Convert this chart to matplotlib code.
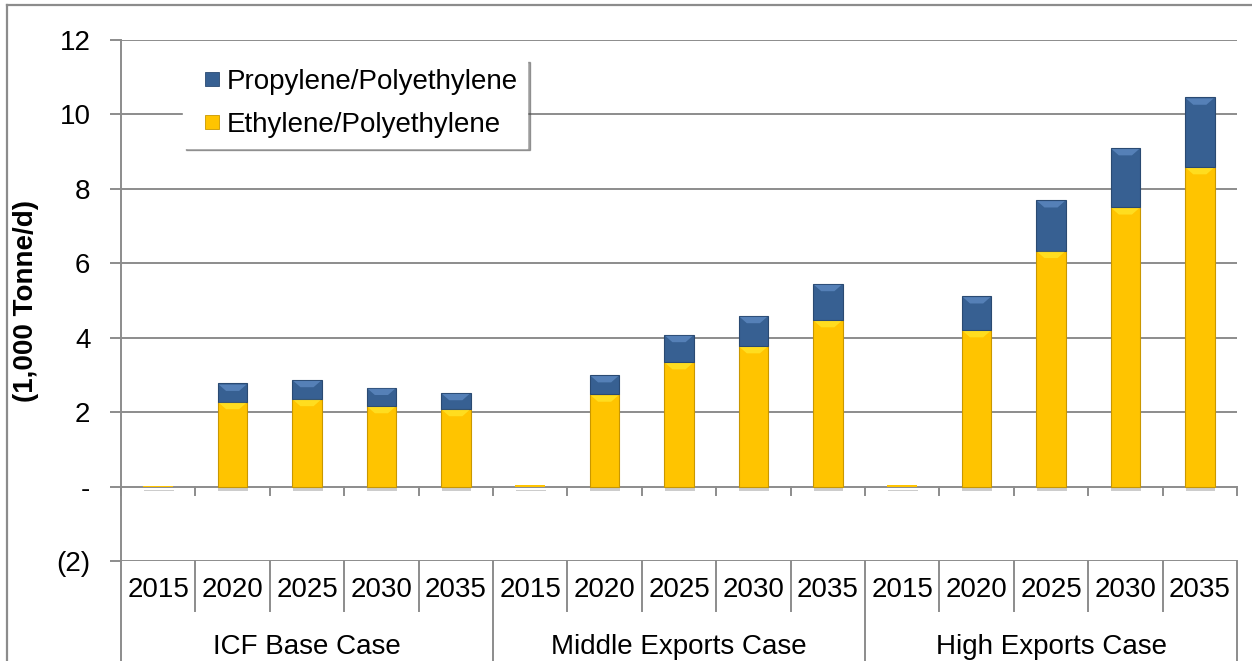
import matplotlib
matplotlib.use("Agg")
import matplotlib.pyplot as plt
import matplotlib.patheffects as pe
from matplotlib.patches import Polygon
from matplotlib.lines import Line2D
import matplotlib.transforms as mtransforms
import numpy as np

plt.rcParams['font.family'] = ['Liberation Sans', 'DejaVu Sans']

# ---------------- data ----------------
groups = ["ICF Base Case", "Middle Exports Case", "High Exports Case"]
years = ["2015", "2020", "2025", "2030", "2035"]
ethylene = [0.01, 2.28, 2.36, 2.17, 2.09,
            0.03, 2.48, 3.35, 3.78, 4.48,
            0.03, 4.21, 6.34, 7.51, 8.59]
propylene = [0.0, 0.49, 0.51, 0.49, 0.43,
             0.0, 0.52, 0.73, 0.81, 0.97,
             0.0, 0.91, 1.36, 1.59, 1.87]
ytick_vals = [-2, 0, 2, 4, 6, 8, 10, 12]
ytick_labels = ["(2)", "-", "2", "4", "6", "8", "10", "12"]
series_names = ["Ethylene/Polyethylene", "Propylene/Polyethylene"]

# ---------------- style ----------------
W, H = 1252, 661
fig = plt.figure(figsize=(W / 100, H / 100), dpi=100)
ax_l, ax_r, ax_t, ax_b = 121, 1237, 40, 561
ax = fig.add_axes([ax_l / W, (H - ax_b) / H, (ax_r - ax_l) / W, (ax_b - ax_t) / H])

FS = 20
GRID = "#8c8c8c"
YEL = "#FFC400"
YEL_EDGE = "#C99700"
YEL_HI = "#FFF23A"
BLU = "#376092"
BLU_EDGE = "#2A4A72"
BLU_HI = "#6E9BD6"

n = len(ethylene)
x = np.arange(n)
bw = 0.4

ax.set_xlim(-0.5, n - 0.5)
ax.set_ylim(-2, 12)

# gridlines
for v in ytick_vals:
    ax.axhline(v, color=GRID, lw=1.4, zorder=0)

shadow = [pe.SimplePatchShadow(offset=(0.5, -3), shadow_rgbFace="black", alpha=0.2), pe.Normal()]
lw_e = [0.8 if v > 0.2 else 0 for v in ethylene]
lw_p = [0.8 if v > 0 else 0 for v in propylene]
ax.bar(x, ethylene, bw, color=YEL, edgecolor=YEL_EDGE, linewidth=lw_e, zorder=3,
       path_effects=shadow)
ax.bar(x, propylene, bw, bottom=ethylene, color=BLU, edgecolor=BLU_EDGE, linewidth=lw_p,
       zorder=3, path_effects=[pe.Normal()])

# top bevel highlights
hb = 0.2
for i in range(n):
    for bottom, h, col in ((0, ethylene[i], YEL_HI), (ethylene[i], propylene[i], BLU_HI)):
        if h < 0.4:
            continue
        top = bottom + h
        x0, x1 = x[i] - bw / 2, x[i] + bw / 2
        poly = Polygon([(x0 + 0.015, top - 0.03), (x1 - 0.015, top - 0.03),
                        (x1 - bw * 0.28, top - hb), (x0 + bw * 0.28, top - hb)],
                       closed=True, facecolor=col, edgecolor="none", alpha=0.55, zorder=4)
        ax.add_patch(poly)

# y axis
ax.set_yticks(ytick_vals)
ax.set_yticklabels(ytick_labels, fontsize=FS)
ax.tick_params(axis="y", length=8, width=1.4, color=GRID, pad=14)
ax.set_xticks([])
for s in ["top", "right", "bottom"]:
    ax.spines[s].set_visible(False)
ax.spines["left"].set_color(GRID)
ax.spines["left"].set_linewidth(1.4)

ax.set_ylabel("(1,000 Tonne/d)", fontsize=FS, fontweight="bold")
ax.yaxis.set_label_coords((39 - ax_l) / (ax_r - ax_l), 0.5)

# x ticks at zero line
tick_len = 8 / ((ax_b - ax_t) / 14)
for i in range(n + 1):
    ax.plot([i - 0.5, i - 0.5], [0, -tick_len], color=GRID, lw=1.4, zorder=2, clip_on=False)

# category table below
trans = mtransforms.blended_transform_factory(ax.transData, ax.transAxes)
axh = ax_b - ax_t
row1 = 50 / axh
row2 = 100 / axh
for i in range(n + 1):
    depth = row2 + 0.01 if i % len(years) == 0 else row1
    ax.plot([i - 0.5, i - 0.5], [0, -depth], color=GRID, lw=1.4, transform=trans,
            clip_on=False, zorder=2)
for i in range(n):
    ax.text(x[i], -29 / axh, years[i % len(years)], transform=trans, ha="center", va="center",
            fontsize=FS)
for g, name in enumerate(groups):
    cx = g * len(years) + (len(years) - 1) / 2
    ax.text(cx, -86 / axh, name, transform=trans, ha="center", va="center", fontsize=FS)

# legend
handles = [Line2D([], [], linestyle="none", marker="s", markersize=9.5,
                  markerfacecolor=BLU, markeredgecolor=BLU_EDGE, markeredgewidth=0.6),
           Line2D([], [], linestyle="none", marker="s", markersize=9.5,
                  markerfacecolor=YEL, markeredgecolor=YEL_EDGE, markeredgewidth=0.6)]
leg = ax.legend(handles, [series_names[1], series_names[0]],
                loc="upper left", bbox_to_anchor=((183 - ax_l) / (ax_r - ax_l), (ax_b - 59) / axh),
                borderaxespad=0, fontsize=FS, frameon=True, fancybox=False, shadow=True,
                handlelength=1.38, handletextpad=-0.17, borderpad=0.35,
                labelspacing=0.62)
leg.get_frame().set_edgecolor("white")
leg.get_frame().set_facecolor("white")
leg.set_zorder(10)

# outer chart border (top and left visible)
fig.add_artist(Line2D([7 / W, 7 / W], [0, (H - 5) / H], color=GRID, lw=1.6, transform=fig.transFigure))
fig.add_artist(Line2D([7 / W, 1], [(H - 5) / H, (H - 5) / H], color=GRID, lw=1.6, transform=fig.transFigure))

fig.savefig("out.png", dpi=100)
